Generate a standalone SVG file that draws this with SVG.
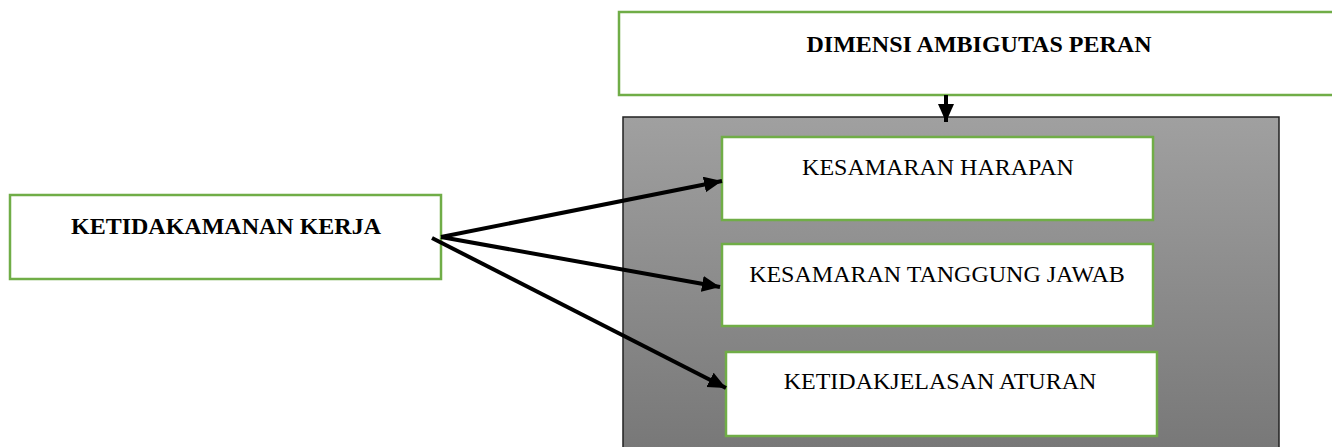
<svg xmlns="http://www.w3.org/2000/svg" width="1332" height="447" viewBox="0 0 1332 447">
  <style>
    .box { fill: #ffffff; stroke: #70ad47; stroke-width: 2.5; }
    .bold { font-family: "Liberation Serif", "Times New Roman", serif; font-size: 24px; font-weight: bold; fill: #000; text-anchor: middle; }
    .reg { font-family: "Liberation Serif", "Times New Roman", serif; font-size: 24px; fill: #000; text-anchor: middle; }
    .conn { stroke: #000; stroke-width: 4; fill: none; marker-end: url(#head); }
  </style>
  <defs>
    <linearGradient id="panelFill" x1="0" y1="0" x2="0" y2="1">
      <stop offset="0" stop-color="#a0a0a0"/>
      <stop offset="1" stop-color="#777777"/>
    </linearGradient>
    <marker id="head" markerUnits="userSpaceOnUse" markerWidth="20" markerHeight="18" refX="18" refY="8" orient="auto">
      <path d="M0,0 L18,8 L0,16 z" fill="#000"/>
    </marker>
  </defs>

  <!-- top heading box -->
  <g id="dimensi">
    <rect class="box" x="619" y="12" width="720" height="83"/>
    <text class="bold" x="979" y="52">DIMENSI AMBIGUTAS PERAN</text>
  </g>

  <!-- grey panel holding the three dimensions -->
  <g id="panel">
    <rect x="623" y="117" width="656" height="340" fill="url(#panelFill)" stroke="#222" stroke-width="1.5"/>
  </g>

  <g id="harapan">
    <rect class="box" x="722" y="137" width="431" height="83"/>
    <text class="reg" x="938" y="175">KESAMARAN HARAPAN</text>
  </g>

  <g id="tanggung-jawab">
    <rect class="box" x="722" y="244" width="431" height="82"/>
    <text class="reg" x="937" y="282">KESAMARAN TANGGUNG JAWAB</text>
  </g>

  <g id="aturan">
    <rect class="box" x="726" y="352" width="431" height="84"/>
    <text class="reg" x="940" y="389">KETIDAKJELASAN ATURAN</text>
  </g>

  <g id="ketidakamanan">
    <rect class="box" x="10" y="195" width="431" height="84"/>
    <text class="bold" x="226" y="234">KETIDAKAMANAN KERJA</text>
  </g>

  <!-- connectors -->
  <g id="connectors">
    <line class="conn" x1="946" y1="95" x2="946" y2="122"/>
    <line class="conn" x1="441" y1="237" x2="722" y2="181"/>
    <line class="conn" x1="441" y1="237" x2="720" y2="287"/>
    <line class="conn" x1="432" y1="238" x2="726" y2="388"/>
  </g>
</svg>
